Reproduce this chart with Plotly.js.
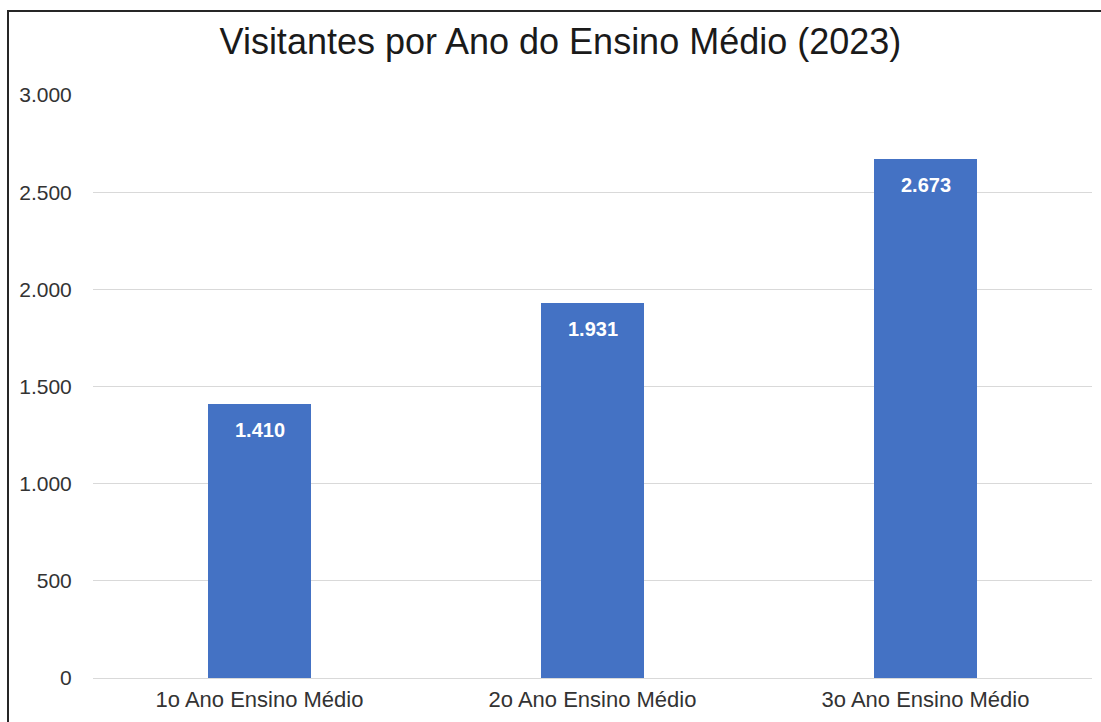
<!DOCTYPE html>
<html>
<head>
<meta charset="utf-8">
<script src="https://cdn.plot.ly/plotly-3.0.1.min.js"></script>
<style>
  html, body { margin: 0; padding: 0; background: #ffffff; }
  #chart { width: 1101px; height: 722px; position: absolute; left: 0; top: 0; }
  #frame { position: absolute; left: 7px; top: 10px; width: 1200px; height: 800px;
           border-left: 2px solid #262626; border-top: 2px solid #262626; pointer-events: none; }
</style>
</head>
<body>
<div id="chart"></div>
<div id="frame"></div>
<script>
const categories = ["1o Ano Ensino Médio", "2o Ano Ensino Médio", "3o Ano Ensino Médio"];
const visitantes = [1410, 1931, 2673];
const yTicks = [0, 500, 1000, 1500, 2000, 2500, 3000];
const chartTitle = "Visitantes por Ano do Ensino Médio (2023)";

function fmt(n) {
  return String(n).replace(/\B(?=(\d{3})+(?!\d))/g, ".");
}

const trace = {
  type: "bar",
  x: categories,
  y: visitantes,
  width: 0.31,
  marker: { color: "#4472C4" },
  hoverinfo: "x+y"
};

const annotations = categories.map((c, i) => ({
  x: c, y: visitantes[i], xref: "x", yref: "y",
  text: fmt(visitantes[i]),
  showarrow: false, yanchor: "top", yshift: -13,
  font: { family: "Liberation Sans, Arial, sans-serif", size: 20, color: "#ffffff", weight: "bold" }
}));

const layout = {
  width: 1101, height: 722,
  margin: { l: 93, r: 9, t: 95, b: 44 },
  paper_bgcolor: "#ffffff", plot_bgcolor: "#ffffff",
  separators: ",.",
  showlegend: false,
  bargap: 0,
  title: {
    text: chartTitle,
    xref: "container", yref: "container",
    x: 0.509, y: 1 - 41 / 722, xanchor: "center", yanchor: "middle",
    font: { family: "Liberation Sans, Arial, sans-serif", size: 36, color: "#1a1a1a" }
  },
  xaxis: {
    type: "category",
    range: [-0.5, 2.5],
    showgrid: false, zeroline: false, showline: false,
    ticks: "outside", ticklen: 2, tickcolor: "rgba(0,0,0,0)",
    tickfont: { family: "Liberation Sans, Arial, sans-serif", size: 22, color: "#333333" }
  },
  yaxis: {
    range: [0, 3000],
    tickvals: yTicks,
    ticktext: yTicks.map(fmt),
    showgrid: true, gridcolor: "#d9d9d9", gridwidth: 1,
    zeroline: true, zerolinecolor: "#d9d9d9", zerolinewidth: 1,
    showline: false,
    ticks: "outside", ticklen: 16, tickcolor: "rgba(0,0,0,0)",
    tickfont: { family: "Liberation Sans, Arial, sans-serif", size: 21, color: "#333333" }
  },
  annotations: annotations
};

Plotly.newPlot("chart", [trace], layout, { displayModeBar: false, staticPlot: true });
</script>
</body>
</html>
